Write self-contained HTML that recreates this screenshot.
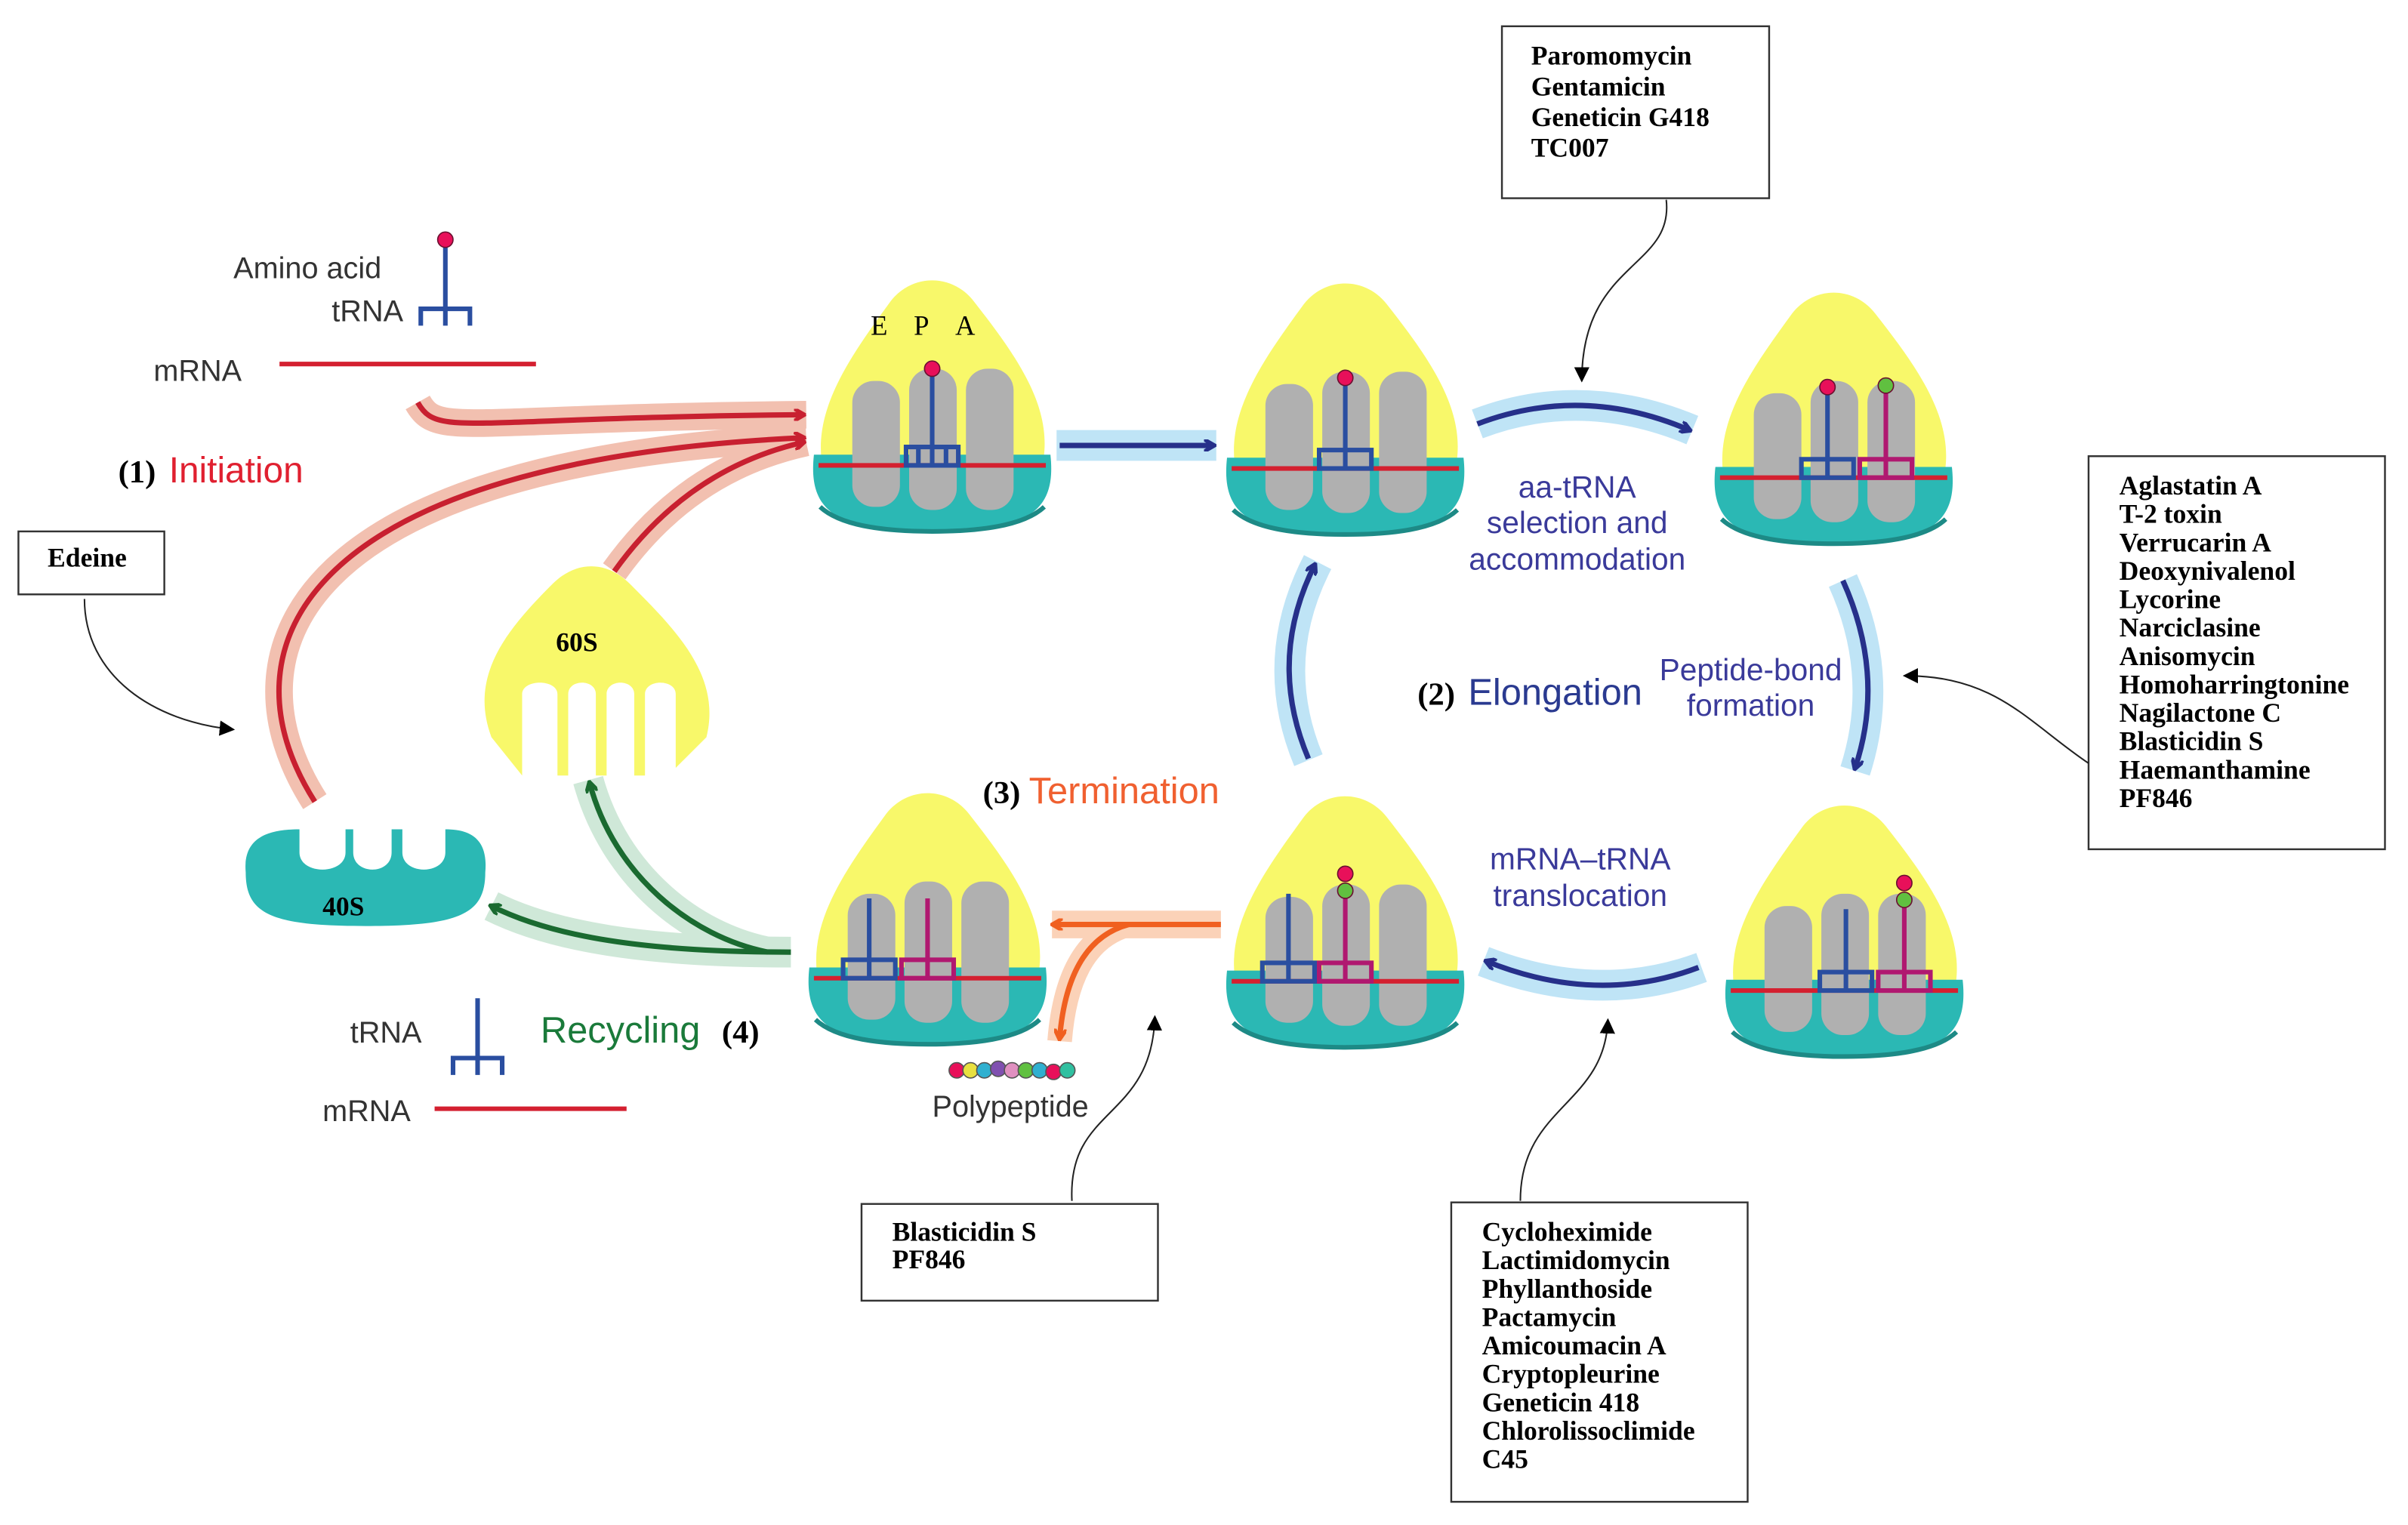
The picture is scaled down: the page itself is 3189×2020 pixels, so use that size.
<!DOCTYPE html>
<html><head><meta charset="utf-8"><style>
html,body{margin:0;padding:0;background:#fff;}
svg{display:block}
.b{font-family:"Liberation Serif",serif;font-weight:bold;font-size:17.5px;fill:#000}
.s{font-family:"Liberation Sans",sans-serif;font-size:19.5px;fill:#333}
.bl{font-family:"Liberation Sans",sans-serif;font-size:20px;fill:#3a3a9a}
</style></head><body>
<svg width="3189" height="2020" viewBox="0 0 1568 993" xmlns="http://www.w3.org/2000/svg">
<defs>
<g id="rib">
  <path d="M8,128 C0,90 25,55 52,18 C66,0 92,0 106,18 C135,55 160,90 150,128 Z" fill="#f8f86a"/>
  <path d="M2,118 L156,118 C160,155 142,168 79,168 C16,168 -2,155 2,118 Z" fill="#2bb8b4"/>
  <path d="M6,152 C20,165 50,168 79,168 C108,168 138,165 152,152" fill="none" stroke="#1d8a86" stroke-width="3"/>
  <rect x="27" y="70" width="31" height="82" rx="14" fill="#b0b0b0"/>
  <rect x="64" y="62" width="31" height="92" rx="14" fill="#b0b0b0"/>
  <rect x="101" y="62" width="31" height="92" rx="14" fill="#b0b0b0"/>
  <line x1="5" y1="125" x2="153" y2="125" stroke="#d42030" stroke-width="3"/>
</g>
<marker id="ab" markerWidth="8" markerHeight="8" refX="6" refY="4" orient="auto" markerUnits="userSpaceOnUse"><path d="M0,0 L7,4 L0,8" fill="none" stroke="#26308a" stroke-width="2.5"/></marker>
<marker id="ar" markerWidth="8" markerHeight="8" refX="6" refY="4" orient="auto" markerUnits="userSpaceOnUse"><path d="M0,0 L7,4 L0,8" fill="none" stroke="#c82030" stroke-width="2.5"/></marker>
<marker id="ag" markerWidth="8" markerHeight="8" refX="6" refY="4" orient="auto" markerUnits="userSpaceOnUse"><path d="M0,0 L7,4 L0,8" fill="none" stroke="#1a6a30" stroke-width="2.5"/></marker>
<marker id="ao" markerWidth="8" markerHeight="8" refX="6" refY="4" orient="auto" markerUnits="userSpaceOnUse"><path d="M0,0 L7,4 L0,8" fill="none" stroke="#f06020" stroke-width="2.5"/></marker>
<marker id="ak" markerWidth="10" markerHeight="10" refX="9" refY="5" orient="auto" markerUnits="userSpaceOnUse"><path d="M0,0 L10,5 L0,10 Z" fill="#000"/></marker>
</defs>

<g fill="none" stroke-linecap="butt">
  <path d="M688,290 L792,290" stroke="#bfe4f6" stroke-width="20"/>
  <path d="M962,276 Q1030,250 1102,280" stroke="#bfe4f6" stroke-width="20"/>
  <path d="M1200,378 Q1228,440 1208,502" stroke="#bfe4f6" stroke-width="20"/>
  <path d="M1108,630 Q1040,655 966,626" stroke="#bfe4f6" stroke-width="20"/>
  <path d="M852,495 Q825,430 858,366" stroke="#bfe4f6" stroke-width="20"/>
  <path d="M205,522 C140,420 200,300 525,285" stroke="#f2c0b0" stroke-width="18"/>
  <path d="M272,262 C285,285 300,272 525,270" stroke="#f2c0b0" stroke-width="18"/>
  <path d="M400,372 C430,330 470,300 525,288" stroke="#f2c0b0" stroke-width="18"/>
  <path d="M515,620 C420,620 360,610 320,590" stroke="#cfe8d8" stroke-width="20"/>
  <path d="M500,620 C450,610 400,570 383,508" stroke="#cfe8d8" stroke-width="20"/>
  <path d="M795,602 L685,602" stroke="#fbd2b8" stroke-width="18"/>
  <path d="M735,602 C705,610 693,640 690,678" stroke="#fbd2b8" stroke-width="16"/>
</g>

<use href="#rib" x="528" y="178"/>
<use href="#rib" x="797" y="180"/>
<use href="#rib" x="1115" y="186"/>
<use href="#rib" x="1122" y="520"/>
<use href="#rib" x="797" y="514"/>
<use href="#rib" x="525" y="512"/>

<text x="567" y="218" font-family="Liberation Serif,serif" font-size="18">E</text>
<text x="595" y="218" font-family="Liberation Serif,serif" font-size="18">P</text>
<text x="622" y="218" font-family="Liberation Serif,serif" font-size="18">A</text>

<g fill="none" stroke-width="3">
  <g stroke="#2a4ea0"><line x1="607" y1="240" x2="607" y2="303"/><rect x="590" y="291" width="34" height="12"/><line x1="598" y1="291" x2="598" y2="303"/><line x1="616" y1="291" x2="616" y2="303"/></g>
  <g stroke="#2a4ea0"><line x1="876" y1="246" x2="876" y2="305"/><rect x="859" y="293" width="34" height="12"/></g>
  <g stroke="#2a4ea0"><line x1="1190" y1="252" x2="1190" y2="311"/><rect x="1173" y="299" width="34" height="12"/></g>
  <g stroke="#b01870"><line x1="1228" y1="252" x2="1228" y2="311"/><rect x="1211" y="299" width="34" height="12"/></g>
  <g stroke="#2a4ea0"><line x1="1202" y1="592" x2="1202" y2="645"/><rect x="1185" y="633" width="34" height="12"/></g>
  <g stroke="#b01870"><line x1="1240" y1="585" x2="1240" y2="645"/><rect x="1223" y="633" width="34" height="12"/></g>
  <g stroke="#2a4ea0"><line x1="839" y1="582" x2="839" y2="639"/><rect x="822" y="627" width="34" height="12"/></g>
  <g stroke="#b01870"><line x1="876" y1="578" x2="876" y2="639"/><rect x="859" y="627" width="34" height="12"/></g>
  <g stroke="#2a4ea0"><line x1="566" y1="585" x2="566" y2="637"/><rect x="549" y="625" width="34" height="12"/></g>
  <g stroke="#b01870"><line x1="604" y1="585" x2="604" y2="637"/><rect x="587" y="625" width="34" height="12"/></g>
</g>
<g stroke="#6a1030" stroke-width="0.8">
  <circle cx="607" cy="240" r="5" fill="#e8105a"/>
  <circle cx="876" cy="246" r="5" fill="#e8105a"/>
  <circle cx="1190" cy="252" r="5" fill="#e8105a"/>
  <circle cx="1228" cy="251" r="5" fill="#60c040"/>
  <circle cx="1240" cy="575" r="5" fill="#e8105a"/>
  <circle cx="1240" cy="586" r="5" fill="#60c040"/>
  <circle cx="876" cy="569" r="5" fill="#e8105a"/>
  <circle cx="876" cy="580" r="5" fill="#60c040"/>
</g>

<path d="M320,480 C305,440 330,410 360,380 C375,365 395,365 410,380 C440,410 470,440 460,480 L440,500 L440,452 C440,442 420,442 420,452 L420,505 L413,505 L413,452 C413,442 395,442 395,452 L395,505 L388,505 L388,452 C388,442 370,442 370,452 L370,505 L363,505 L363,452 C363,442 340,442 340,452 L340,505 Z" fill="#f8f86a"/>
<text x="362" y="424" class="b" font-size="18">60S</text>
<path d="M160,568 C158,545 175,540 195,540 L195,555 C195,570 225,570 225,555 L225,540 L230,540 L230,555 C230,570 255,570 255,555 L255,540 L262,540 L262,555 C262,570 290,570 290,555 L290,540 C305,540 318,545 316,568 C316,595 300,603 238,603 C176,603 160,595 160,568 Z" fill="#2bb8b4"/>
<text x="210" y="596" class="b" font-size="17">40S</text>

<g fill="none" stroke-width="3.5">
  <path d="M690,290 L790,290" stroke="#26308a" marker-end="url(#ab)"/>
  <path d="M962,276 Q1030,250 1100,280" stroke="#26308a" marker-end="url(#ab)"/>
  <path d="M1200,378 Q1228,440 1208,500" stroke="#26308a" marker-end="url(#ab)"/>
  <path d="M1106,630 Q1040,655 968,626" stroke="#26308a" marker-end="url(#ab)"/>
  <path d="M852,494 Q825,430 856,368" stroke="#26308a" marker-end="url(#ab)"/>
  <path d="M205,522 C140,420 200,300 523,285" stroke="#c82030" marker-end="url(#ar)"/>
  <path d="M272,262 C285,285 300,272 523,270" stroke="#c82030" marker-end="url(#ar)"/>
  <path d="M400,372 C430,330 470,300 523,288" stroke="#c82030" marker-end="url(#ar)"/>
  <path d="M515,620 C420,620 360,610 320,590" stroke="#1a6a30" marker-end="url(#ag)"/>
  <path d="M500,620 C450,610 400,570 384,510" stroke="#1a6a30" marker-end="url(#ag)"/>
  <path d="M795,602 L686,602" stroke="#f06020" marker-end="url(#ao)"/>
  <path d="M735,602 C705,610 693,640 690,676" stroke="#f06020" marker-end="url(#ao)"/>
</g>

<g stroke="#555" stroke-width="0.8">
  <circle cx="623" cy="697" r="5" fill="#e8105a"/><circle cx="632" cy="697" r="5" fill="#e8e040"/>
  <circle cx="641" cy="697" r="5" fill="#30b0d0"/><circle cx="650" cy="696" r="5" fill="#8050b0"/>
  <circle cx="659" cy="697" r="5" fill="#e090c0"/><circle cx="668" cy="697" r="5" fill="#60c040"/>
  <circle cx="677" cy="697" r="5" fill="#30b0d0"/><circle cx="686" cy="698" r="5" fill="#e8105a"/>
  <circle cx="695" cy="697" r="5" fill="#30c0a0"/>
</g>

<text x="152" y="181" class="s">Amino acid</text>
<text x="216" y="209" class="s">tRNA</text>
<text x="100" y="248" class="s">mRNA</text>
<line x1="182" y1="237" x2="349" y2="237" stroke="#d42030" stroke-width="3"/>
<g fill="none" stroke="#2a4ea0" stroke-width="3"><line x1="290" y1="158" x2="290" y2="212"/><path d="M274,212 L274,201 L306,201 L306,212"/></g>
<circle cx="290" cy="156" r="5" fill="#e8105a" stroke="#6a1030" stroke-width="0.8"/>

<text x="228" y="679" class="s">tRNA</text>
<text x="210" y="730" class="s">mRNA</text>
<line x1="283" y1="722" x2="408" y2="722" stroke="#d42030" stroke-width="3"/>
<g fill="none" stroke="#2a4ea0" stroke-width="3"><line x1="311" y1="650" x2="311" y2="700"/><path d="M295,700 L295,689 L327,689 L327,700"/></g>
<text x="607" y="727" class="s">Polypeptide</text>

<text x="77" y="314" font-family="Liberation Serif,serif" font-weight="bold" font-size="21">(1)</text>
<text x="110" y="314" font-family="Liberation Sans,sans-serif" font-size="23.5" fill="#e02030">Initiation</text>
<text x="923" y="459" font-family="Liberation Serif,serif" font-weight="bold" font-size="21">(2)</text>
<text x="956" y="459" font-family="Liberation Sans,sans-serif" font-size="24" fill="#2a3a90">Elongation</text>
<text x="640" y="523" font-family="Liberation Serif,serif" font-weight="bold" font-size="21">(3)</text>
<text x="670" y="523" font-family="Liberation Sans,sans-serif" font-size="24" fill="#f06030">Termination</text>
<text x="352" y="679" font-family="Liberation Sans,sans-serif" font-size="24" fill="#1a7a3a">Recycling</text>
<text x="470" y="679" font-family="Liberation Serif,serif" font-weight="bold" font-size="21">(4)</text>

<g text-anchor="middle">
<text x="1027" y="324" class="bl">aa-tRNA</text>
<text x="1027" y="347" class="bl">selection and</text>
<text x="1027" y="371" class="bl">accommodation</text>
<text x="1140" y="443" class="bl">Peptide-bond</text>
<text x="1140" y="466" class="bl">formation</text>
<text x="1029" y="566" class="bl">mRNA–tRNA</text>
<text x="1029" y="590" class="bl">translocation</text>
</g>

<g fill="#fff" stroke="#333" stroke-width="1.2">
  <rect x="978" y="17" width="174" height="112"/>
  <rect x="12" y="346" width="95" height="41"/>
  <rect x="1360" y="297" width="193" height="256"/>
  <rect x="561" y="784" width="193" height="63"/>
  <rect x="945" y="783" width="193" height="195"/>
</g>
<g>
<text x="997" y="42" class="b">Paromomycin</text>
<text x="997" y="62" class="b">Gentamicin</text>
<text x="997" y="82" class="b">Geneticin G418</text>
<text x="997" y="102" class="b">TC007</text>
<text x="31" y="369" class="b">Edeine</text>
<text x="1380" y="322" class="b">Aglastatin A</text>
<text x="1380" y="340.5" class="b">T-2 toxin</text>
<text x="1380" y="359" class="b">Verrucarin A</text>
<text x="1380" y="377.5" class="b">Deoxynivalenol</text>
<text x="1380" y="396" class="b">Lycorine</text>
<text x="1380" y="414.5" class="b">Narciclasine</text>
<text x="1380" y="433" class="b">Anisomycin</text>
<text x="1380" y="451.5" class="b">Homoharringtonine</text>
<text x="1380" y="470" class="b">Nagilactone C</text>
<text x="1380" y="488.5" class="b">Blasticidin S</text>
<text x="1380" y="507" class="b">Haemanthamine</text>
<text x="1380" y="525.5" class="b">PF846</text>
<text x="581" y="808" class="b">Blasticidin S</text>
<text x="581" y="826" class="b">PF846</text>
<text x="965" y="808" class="b">Cycloheximide</text>
<text x="965" y="826.5" class="b">Lactimidomycin</text>
<text x="965" y="845" class="b">Phyllanthoside</text>
<text x="965" y="863.5" class="b">Pactamycin</text>
<text x="965" y="882" class="b">Amicoumacin A</text>
<text x="965" y="900.5" class="b">Cryptopleurine</text>
<text x="965" y="919" class="b">Geneticin 418</text>
<text x="965" y="937.5" class="b">Chlorolissoclimide</text>
<text x="965" y="956" class="b">C45</text>
</g>

<g fill="none" stroke="#222" stroke-width="1">
  <path d="M1085,130 C1090,175 1030,170 1030,248" marker-end="url(#ak)"/>
  <path d="M55,390 C55,440 100,470 152,475" marker-end="url(#ak)"/>
  <path d="M1360,497 C1320,470 1300,440 1240,440" marker-end="url(#ak)"/>
  <path d="M698,782 C695,720 750,730 752,662" marker-end="url(#ak)"/>
  <path d="M990,782 C990,720 1045,720 1047,664" marker-end="url(#ak)"/>
</g>
</svg>
</body></html>
